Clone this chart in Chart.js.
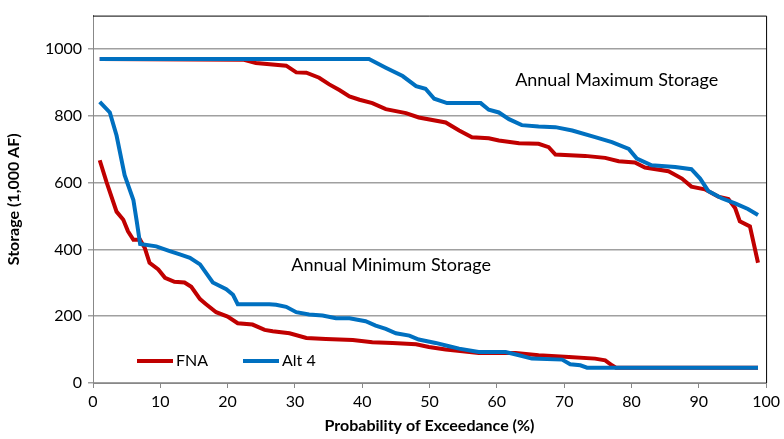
<!DOCTYPE html>
<html lang="en">
<head>
  <meta charset="UTF-8">
  <title>Storage Exceedance</title>
  <script src="https://cdn.jsdelivr.net/npm/chart.js"></script>
  <style>
    html, body { margin: 0; padding: 0; background: #fff; }
    #wrap { width: 784px; height: 439px; }
  </style>
</head>
<body>
  <div id="wrap"><canvas id="canvas" width="784" height="439"></canvas></div>

  <script>
    // values (x = % exceedance, y = 1,000 AF)
    const fnaMaxX = [1, 22.3, 24.2, 28.7, 30.2, 31.7, 33.6, 35.1, 36.6, 38.1, 39.6, 41.5, 43.5, 46.5, 48.4, 52.4, 54.4, 56.3, 58.8, 60.3, 63.3, 66.2, 67.7, 68.7, 73.1, 76.1, 78.1, 80.5, 82.0, 85.5, 87.5, 88.9, 90.9, 92.9, 94.4, 95.4, 96.1, 97.6, 98.8];
    const fnaMaxY = [970, 968, 958, 950, 930, 929, 914, 894, 877, 858, 848, 838, 820, 808, 795, 780, 756, 736, 733, 726, 718, 716, 706, 684, 680, 674, 664, 660, 645, 634, 612, 588, 580, 558, 551, 524, 484, 469, 360];

    const alt4MaxX = [1, 41.0, 43.5, 46.0, 48.0, 49.4, 50.7, 52.6, 57.6, 58.8, 60.3, 61.8, 63.7, 66.2, 68.7, 71.2, 74.6, 77.1, 79.6, 80.8, 83.0, 86.5, 88.9, 90.2, 91.4, 93.4, 95.4, 97.3, 98.8];
    const alt4MaxY = [970, 970, 944, 919, 889, 881, 851, 838, 838, 818, 810, 790, 772, 768, 766, 756, 736, 721, 701, 672, 652, 647, 640, 612, 575, 553, 538, 521, 503];

    const fnaMinX = [1, 2.0, 3.5, 4.5, 5.2, 6.0, 7.0, 7.7, 8.4, 9.7, 10.7, 12.1, 13.6, 14.6, 15.9, 16.8, 18.3, 20.0, 21.5, 23.7, 25.5, 26.7, 29.2, 31.7, 34.6, 38.6, 41.5, 44.5, 48.0, 49.9, 52.4, 54.9, 57.3, 62.8, 66.2, 70.7, 74.6, 76.1, 77.1, 77.7, 98.8];
    const fnaMinY = [667, 602, 513, 489, 454, 429, 429, 404, 360, 340, 315, 303, 301, 288, 251, 236, 212, 199, 179, 175, 159, 155, 149, 135, 132, 129, 122, 120, 116, 108, 100, 95, 90, 90, 83, 78, 73, 68, 53, 46, 46];

    const alt4MinX = [1.0, 2.5, 3.5, 4.7, 6.0, 6.5, 7.0, 9.4, 11.4, 12.9, 14.4, 15.9, 17.8, 19.8, 20.8, 21.5, 26.2, 27.2, 28.7, 30.2, 32.1, 34.1, 36.1, 38.1, 40.5, 42.0, 43.5, 45.0, 47.0, 48.4, 50.9, 52.9, 54.4, 57.3, 61.3, 63.3, 65.2, 69.7, 70.9, 72.4, 73.4, 98.8];
    const alt4MinY = [842, 810, 741, 622, 548, 484, 416, 409, 395, 385, 375, 355, 301, 281, 264, 236, 236, 234, 228, 212, 205, 202, 194, 194, 185, 172, 162, 149, 142, 130, 120, 110, 103, 93, 93, 83, 73, 70, 56, 53, 46, 46];

    const seriesNames = ["FNA", "Alt 4"];
    const seriesColors = ["#C00000", "#0070C0"];
    const notes = [
      { text: "Annual Maximum Storage", x: 77.8, y: 908 },
      { text: "Annual Minimum Storage", x: 44.3, y: 353 }
    ];

    const FONT = "Lato, 'Open Sans', sans-serif";

    function pts(xs, ys) {
      return xs.map((x, i) => ({ x: x, y: ys[i] }));
    }

    function line(label, color, data, order) {
      return {
        label: label,
        data: data,
        borderColor: color,
        backgroundColor: color,
        borderWidth: 4,
        pointRadius: 0,
        tension: 0,
        fill: false,
        order: order
      };
    }

    // frame, notes and the in-plot legend
    const extras = {
      id: "extras",
      afterDatasetsDraw(chart) {
        const ctx = chart.ctx;
        const a = chart.chartArea;
        const xs = chart.scales.x, ys = chart.scales.y;
        ctx.save();
        ctx.strokeStyle = "#000";
        ctx.lineWidth = 1;
        ctx.beginPath();
        ctx.moveTo(a.left, a.top + 0.5);
        ctx.lineTo(a.right + 0.5, a.top + 0.5);
        ctx.lineTo(a.right + 0.5, a.bottom);
        ctx.stroke();

        ctx.fillStyle = "#000";
        ctx.font = "18px " + FONT;
        ctx.textAlign = "center";
        ctx.textBaseline = "middle";
        notes.forEach(n => {
          ctx.fillText(n.text, xs.getPixelForValue(n.x), ys.getPixelForValue(n.y));
        });

        // legend
        const ly = a.bottom - 22;
        const starts = [a.left + 44, a.left + 150];
        ctx.textAlign = "left";
        ctx.font = "16px " + FONT;
        seriesNames.forEach((name, i) => {
          ctx.strokeStyle = seriesColors[i];
          ctx.lineWidth = 4;
          ctx.beginPath();
          ctx.moveTo(starts[i], ly);
          ctx.lineTo(starts[i] + 36, ly);
          ctx.stroke();
          ctx.fillStyle = "#000";
          ctx.fillText(name, starts[i] + 39, ly);
        });
        ctx.restore();
      }
    };

    window.onload = function () {
      const ctx = document.getElementById("canvas").getContext("2d");
      new Chart(ctx, {
        type: "line",
        data: {
          datasets: [
            line("FNA", seriesColors[0], pts(fnaMaxX, fnaMaxY), 2),
            line("FNA", seriesColors[0], pts(fnaMinX, fnaMinY), 3),
            line("Alt 4", seriesColors[1], pts(alt4MaxX, alt4MaxY), 0),
            line("Alt 4", seriesColors[1], pts(alt4MinX, alt4MinY), 1)
          ]
        },
        options: {
          responsive: false,
          animation: false,
          layout: { padding: { top: 13, right: 16, left: 0, bottom: 0 } },
          plugins: {
            legend: { display: false },
            tooltip: { enabled: false }
          },
          scales: {
            x: {
              type: "linear",
              min: 0,
              max: 100,
              ticks: {
                stepSize: 10,
                color: "#000",
                font: { family: FONT, size: 16 },
                padding: 4
              },
              grid: { drawOnChartArea: false, drawTicks: true, tickLength: 5, color: "#888" },
              border: { color: "#888", width: 1 },
              title: {
                display: true,
                text: "Probability of Exceedance (%)",
                color: "#000",
                font: { family: FONT, size: 16, weight: "bold" },
                padding: { top: 3 }
              },
              afterFit(s) { s.height = 56; }
            },
            y: {
              min: 0,
              max: 1100,
              ticks: {
                stepSize: 200,
                includeBounds: false,
                color: "#000",
                font: { family: FONT, size: 16 },
                padding: 6,
                callback: v => String(v)
              },
              grid: { color: "#a0a0a0", lineWidth: 1.5, tickLength: 5 },
              border: { color: "#888", width: 1 },
              title: {
                display: true,
                text: "Storage (1,000 AF)",
                color: "#000",
                font: { family: FONT, size: 16, weight: "bold" },
                padding: { bottom: 2 }
              },
              afterFit(s) { s.width = 93; }
            }
          }
        },
        plugins: [extras]
      });
    };
  </script>
</body>
</html>
